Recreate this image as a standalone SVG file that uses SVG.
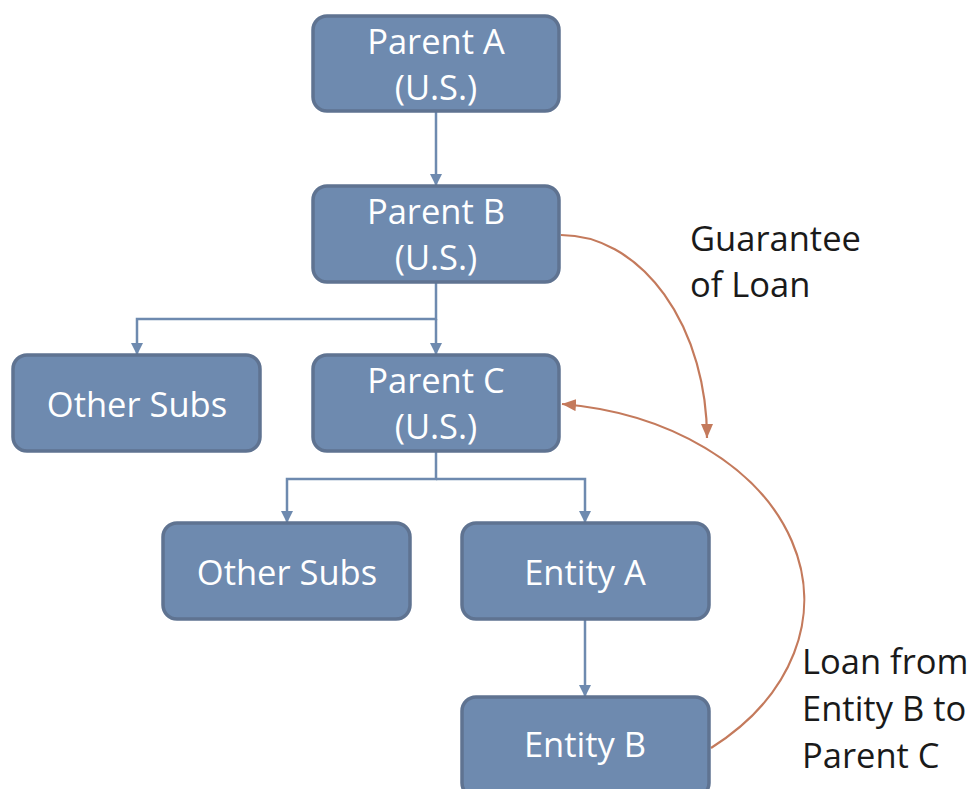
<svg xmlns="http://www.w3.org/2000/svg" width="972" height="789" viewBox="0 0 972 789">
  <style>
    .box { fill: #6e8aaf; stroke: #5f7391; stroke-width: 3.5; }
    .lbl { font-family: "Open Sans", "Liberation Sans", sans-serif; font-size: 34.5px; fill: #ffffff; text-anchor: middle; }
    .note { font-family: "Open Sans", "Liberation Sans", sans-serif; font-size: 34.5px; fill: #1a1a1a; }
    .tree { fill: none; stroke: #6e8aaf; stroke-width: 2.5; marker-end: url(#arrBlue); }
    .rel { fill: none; stroke: #c47a5c; stroke-width: 2.2; marker-end: url(#arrOrange); }
  </style>
  <defs>
    <marker id="arrBlue" viewBox="0 0 12 12" refX="12" refY="6" markerWidth="12" markerHeight="12" markerUnits="userSpaceOnUse" orient="auto">
      <path d="M0,0 L12,6 L0,12 Z" fill="#6e8aaf"/>
    </marker>
    <marker id="arrOrange" viewBox="0 0 14 12" refX="14" refY="6" markerWidth="14" markerHeight="12" markerUnits="userSpaceOnUse" orient="auto">
      <path d="M0,0 L14,6 L0,12 Z" fill="#c47a5c"/>
    </marker>
  </defs>

  <!-- ownership connectors -->
  <g id="connectors">
    <path class="tree" d="M436,111 V186"/>
    <path class="tree" d="M436,282 V319 H137 V355"/>
    <path class="tree" d="M436,319 V355"/>
    <path class="tree" d="M436,451 V479 H287 V523"/>
    <path class="tree" d="M436,479 H585 V523"/>
    <path class="tree" d="M585,619 V697"/>
    <!-- guarantee and loan flows -->
    <path class="rel" d="M561,235 A146,203 0 0 1 707,438"/>
    <path class="rel" d="M711,748 A273,197 0 0 0 562,404"/>
  </g>

  <g id="parentA">
    <rect class="box" x="313" y="16" width="246" height="95" rx="14"/>
    <text class="lbl" x="436" y="54">Parent A</text>
    <text class="lbl" x="436" y="100">(U.S.)</text>
  </g>
  <g id="parentB">
    <rect class="box" x="313" y="186" width="246" height="96" rx="14"/>
    <text class="lbl" x="436" y="224">Parent B</text>
    <text class="lbl" x="436" y="270">(U.S.)</text>
  </g>
  <g id="otherSubs1">
    <rect class="box" x="13" y="355" width="247" height="96" rx="14"/>
    <text class="lbl" x="137" y="417">Other Subs</text>
  </g>
  <g id="parentC">
    <rect class="box" x="313" y="355" width="246" height="96" rx="14"/>
    <text class="lbl" x="436" y="393">Parent C</text>
    <text class="lbl" x="436" y="439">(U.S.)</text>
  </g>
  <g id="otherSubs2">
    <rect class="box" x="163" y="523" width="247" height="96" rx="14"/>
    <text class="lbl" x="287" y="585">Other Subs</text>
  </g>
  <g id="entityA">
    <rect class="box" x="462" y="523" width="247" height="96" rx="14"/>
    <text class="lbl" x="585" y="585">Entity A</text>
  </g>
  <g id="entityB">
    <rect class="box" x="462" y="697" width="247" height="100" rx="14"/>
    <text class="lbl" x="585" y="757">Entity B</text>
  </g>

  <g id="guaranteeLabel">
    <text class="note" x="690" y="251">Guarantee</text>
    <text class="note" x="690" y="297">of Loan</text>
  </g>
  <g id="loanLabel">
    <text class="note" x="802" y="674">Loan from</text>
    <text class="note" x="802" y="721">Entity B to</text>
    <text class="note" x="802" y="768">Parent C</text>
  </g>
</svg>
